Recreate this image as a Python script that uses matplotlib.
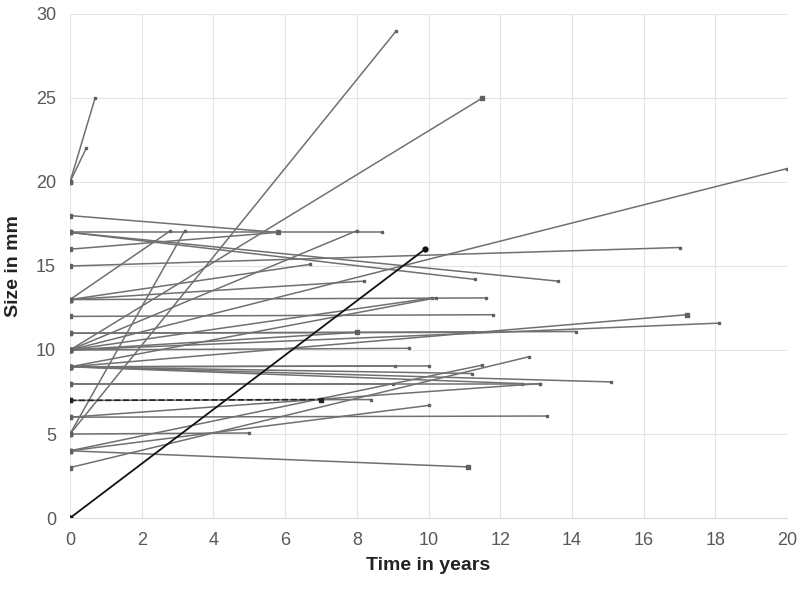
import numpy as np
from matplotlib import pyplot as plt

plt.rcParams['font.family'] = ['Liberation Sans Narrow', 'Liberation Sans', 'DejaVu Sans']

# each lesion: size at t=0 and (time, size) at last follow-up
y_start = [20, 20, 18, 17, 17, 17, 16, 15, 13, 13, 13, 13, 10, 12, 11, 11,
           10, 9, 10, 10, 10, 10, 10, 9, 5, 5, 9, 9, 4, 9, 9, 8, 9,
           7, 6, 6, 5, 4, 4, 3, 8]
x_end = [0.7, 0.45, 5.8, 8.7, 11.3, 13.6, 5.8, 17.0, 2.8, 6.7, 8.2, 11.6, 8.0, 11.8, 11.25, 14.1,
         8.0, 17.2, 18.1, 20.0, 11.5, 9.45, 10.1, 10.2, 9.1, 3.2, 9.05, 10.0, 11.5, 11.2, 12.6, 13.1, 15.1,
         8.4, 13.3, 13.1, 5.0, 11.1, 10.0, 12.8, 9.0]
y_end = [25, 22, 17, 17, 14.2, 14.1, 17, 16.1, 17.1, 15.1, 14.1, 13.1, 17.1, 12.1, 11.05, 11.1,
         11.05, 12.1, 11.6, 20.8, 25, 10.1, 13.1, 13.1, 29, 17.1, 9.05, 9.05, 9.1, 8.6, 8.0, 8.0, 8.1,
         7.05, 6.07, 8.0, 5.06, 3.04, 6.7, 9.6, 8.0]
# bigger square marker at these end points
big_end = [2, 16, 17, 20, 37]

# highlighted cases
dash_end = (7.0, 7.05)
dash_start = 7
black_end = (9.9, 16)
black_start = 0

fig = plt.figure(figsize=(8, 5.95), dpi=100)
ax = fig.add_axes([0.0875, 0.1294, 0.8965, 0.8471])

for i, (y0, x1, y1) in enumerate(zip(y_start, x_end, y_end)):
    ax.plot([0, x1], [y0, y1], color='#707070', lw=1.1)
    ax.plot([0], [y0], color='#606060', marker='s', ms=3, ls='none')
    ax.plot([x1], [y1], color='#606060', marker='s', ms=3.5 if i in big_end else 2, ls='none')

ax.plot([0, dash_end[0]], [dash_start, dash_end[1]], color='#222222', lw=1.2, ls='--', marker='s', ms=2.5)
ax.plot([0, black_end[0]], [black_start, black_end[1]], color='#111111', lw=1.3, marker='o', ms=3.5)

ax.set_xlim(0, 20)
ax.set_ylim(0, 30)
ax.set_xticks(np.arange(0, 21, 2))
ax.set_yticks(np.arange(0, 31, 5))
ax.grid(color='#e3e3e3', lw=0.8)
ax.set_axisbelow(True)
for s in ['top', 'right', 'left']:
    ax.spines[s].set_visible(False)
ax.spines['bottom'].set_color('#d9d9d9')
ax.tick_params(length=0, labelsize=13, colors='#595959', pad=10)
ax.set_xlabel('Time in years', fontsize=14, fontweight='bold', color='#222222', labelpad=6)
ax.set_ylabel('Size in mm', fontsize=14, fontweight='bold', color='#222222', labelpad=10)

fig.savefig('out.png', dpi=100)
